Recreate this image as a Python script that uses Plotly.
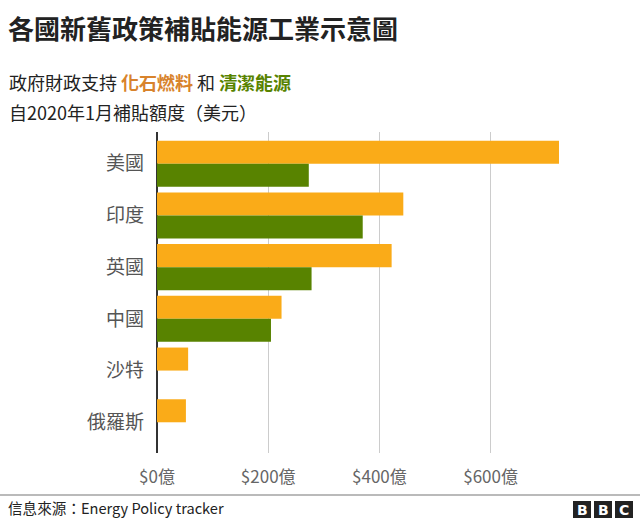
import plotly.graph_objects as go

countries = ["美國", "印度", "英國", "中國", "沙特", "俄羅斯"]
fossil = [723, 443, 422, 224, 56, 52]
clean = [273, 370, 278, 205, 0, 0]
tick_vals = [0, 200, 400, 600]
tick_text = ["$0億", "$200億", "$400億", "$600億"]

ORANGE = "#FAAB18"
GREEN = "#588300"
FONT = "Noto Sans CJK TC"

L, T, B = 157, 132, 67
PW, PH = 640 - L - 66, 520 - T - B


def px(x):
    return (x - L) / PW


def py(y):
    return 1 - (y - T) / PH


fig = go.Figure()
fig.add_trace(go.Bar(y=countries, x=fossil, orientation="h", name="化石燃料",
                     marker=dict(color=ORANGE, line=dict(width=0))))
fig.add_trace(go.Bar(y=countries, x=clean, orientation="h", name="清潔能源",
                     marker=dict(color=GREEN, line=dict(width=0))))

fig.update_layout(
    width=640, height=520,
    margin=dict(l=L, r=66, t=T, b=B),
    paper_bgcolor="white", plot_bgcolor="white",
    barmode="group", bargap=0.11, bargroupgap=0,
    showlegend=False,
    font=dict(family=FONT, color="#555555"),
)
fig.update_xaxes(
    range=[0, 750], tickvals=tick_vals, ticktext=tick_text,
    showgrid=True, gridcolor="#cccccc", gridwidth=1,
    zeroline=True, zerolinecolor="#333333", zerolinewidth=1.5,
    tickfont=dict(size=17, color="#666666", family=FONT),
    ticks="", showline=False, ticklabelstandoff=12,
)
fig.update_yaxes(
    range=[5.594, -0.613], showgrid=False, zeroline=False, showline=False,
    tickfont=dict(size=19, color="#555555", family=FONT),
    ticks="", ticklabelstandoff=12,
)

fig.add_annotation(text="<b>各國新舊政策補貼能源工業示意圖</b>", xref="paper", yref="paper",
                   x=px(6), y=py(27), xanchor="left", yanchor="middle",
                   showarrow=False, font=dict(size=26, color="#222222", family=FONT))
fig.add_annotation(
    text=("政府財政支持 <b><span style='color:#D8832C'>化石燃料</span></b> 和 "
          "<b><span style='color:#588300'>清潔能源</span></b>"),
    xref="paper", yref="paper", x=px(7), y=py(82),
    xanchor="left", yanchor="middle", showarrow=False,
    font=dict(size=18, color="#222222", family=FONT))
fig.add_annotation(text="自2020年1月補貼額度（美元）", xref="paper", yref="paper",
                   x=px(7), y=py(112), xanchor="left", yanchor="middle",
                   showarrow=False, font=dict(size=18, color="#222222", family=FONT))

# footer rule
fig.add_shape(type="line", xref="paper", yref="paper",
              x0=px(0), x1=px(640), y0=py(495), y1=py(495),
              line=dict(color="#777777", width=1.2))
fig.add_annotation(text="信息來源：Energy Policy tracker", xref="paper", yref="paper",
                   x=px(6), y=py(508), xanchor="left", yanchor="middle",
                   showarrow=False, font=dict(size=14.6, color="#222222", family=FONT))

# BBC logo
for i, letter in enumerate(["B", "B", "C"]):
    x0 = 573 + i * 21
    fig.add_shape(type="rect", xref="paper", yref="paper",
                  x0=px(x0), x1=px(x0 + 18), y0=py(518), y1=py(501),
                  fillcolor="#222222", line=dict(width=0))
    fig.add_annotation(text="<b>" + letter + "</b>", xref="paper", yref="paper",
                       x=px(x0 + 9), y=py(509.5),
                       xanchor="center", yanchor="middle", showarrow=False,
                       font=dict(size=14, color="white", family="DejaVu Sans"))

fig.write_html("out.html", config={"displayModeBar": False},
               post_script="document.body.style.margin='0';document.body.style.overflow='hidden';")
